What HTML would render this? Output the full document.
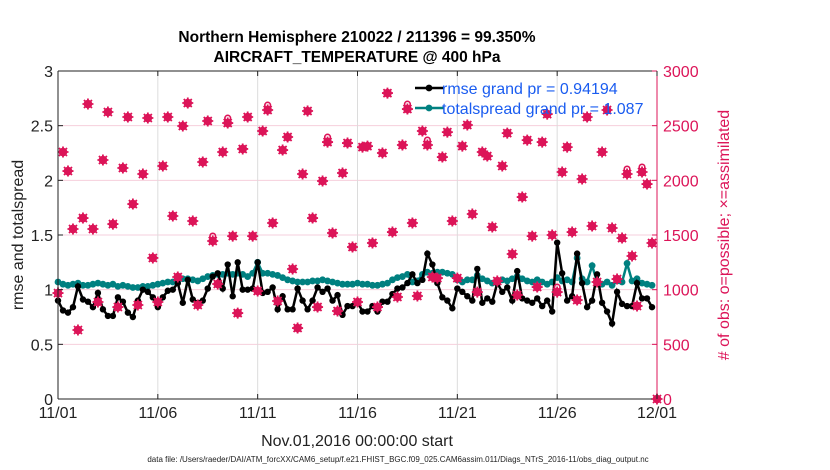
<!DOCTYPE html>
<html><head><meta charset="utf-8"><style>
body{margin:0;background:#fff;}
svg{display:block;font-family:"Liberation Sans",sans-serif;}
</style></head><body>
<svg id="chart" width="830" height="470"></svg>
<script>
const dayLabels=["11/01","11/06","11/11","11/16","11/21","11/26","12/01"];
const leftTicks=[0,0.5,1,1.5,2,2.5,3];
const rightTicks=[0,500,1000,1500,2000,2500,3000];
const rmse=[0.90,0.81,0.79,0.84,1.03,0.91,0.89,0.84,0.97,0.82,
0.76,0.76,0.93,0.89,0.79,0.75,0.90,1.00,0.98,0.93,
0.84,0.93,0.99,1.00,1.06,0.88,1.09,0.91,0.88,0.90,
1.01,1.12,1.15,1.01,1.23,0.94,1.25,1.00,1.00,1.01,
1.25,0.97,0.98,1.02,0.82,0.94,0.82,0.82,1.01,0.90,
0.82,0.90,1.02,0.98,1.01,0.90,0.95,0.77,0.85,0.85,
0.89,0.80,0.80,0.85,0.80,0.89,0.89,0.96,1.01,1.02,
1.06,1.14,1.06,1.09,1.33,1.23,1.06,0.93,0.90,
0.83,1.01,0.98,0.94,0.90,1.19,0.88,0.92,0.89,1.06,
0.98,1.02,0.90,1.17,0.92,0.90,0.88,0.92,0.85,0.90,
0.80,1.43,1.15,0.90,0.94,1.33,1.06,0.84,0.90,1.14,
0.88,0.80,0.69,0.98,0.87,0.85,0.85,1.06,0.92,0.92,0.84];
const spread=[1.07,1.05,1.04,1.05,1.06,1.04,1.04,1.05,1.06,1.05,1.04,
1.05,1.03,1.04,1.03,1.02,1.02,1.03,1.03,1.04,1.05,
1.06,1.07,1.07,1.09,1.10,1.10,1.09,1.08,1.10,1.12,
1.13,1.14,1.14,1.15,1.14,1.15,1.14,1.12,1.15,1.25,
1.15,1.15,1.14,1.13,1.11,1.09,1.08,1.07,1.07,1.07,
1.08,1.08,1.09,1.08,1.07,1.06,1.05,1.05,1.05,1.06,
1.05,1.05,1.04,1.04,1.05,1.06,1.09,1.11,1.12,1.14,
1.07,1.08,1.14,1.16,1.15,1.16,1.16,1.15,
1.14,1.09,1.07,1.09,1.09,1.13,1.10,1.08,1.06,1.07,
1.09,1.08,1.10,1.12,1.10,1.08,1.07,1.09,1.07,1.05,
1.07,1.11,1.08,1.09,1.07,1.29,1.10,1.07,1.22,1.07,1.05,
1.07,1.04,1.08,1.07,1.24,1.08,1.10,1.06,1.05,1.04];
const assim=[969,2259,2085,1555,631,1655,2698,1555,887,2186,
2625,1600,841,2113,2579,1783,860,2058,2570,1290,
887,2131,2579,1674,1116,2497,2707,1628,860,2168,
2543,1445,1052,2259,2524,1490,786,2287,2579,1490,
988,2451,2643,1610,896,2277,2396,1189,649,2058,
2634,1655,841,1994,2350,1518,805,2067,2341,1390,
887,2304,2313,1427,841,2250,2798,1527,933,2323,
2652,1610,942,2451,2323,1116,1106,2213,2441,1628,
1106,2313,2506,1692,978,2259,2222,1573,1079,2131,
2432,1326,951,1847,2368,1490,1024,2350,2606,1500,
978,2076,2304,1527,905,2012,2579,1582,1070,2259,
2643,1564,1097,1472,2058,1308,851,2076,1966,1427,0];
const possible=assim.map((v,i)=>[31,34,42,54,70,74,100,114,117].includes(i)?v+45:v);

const L=58,R=657,T=71,B=399;
const N=120;
const xS=i=>L+(R-L)*i/N;
const yL=v=>B-(B-T)*v/3;
const yR=v=>B-(B-T)*v/3000;
const svg=document.getElementById('chart');
const NS='http://www.w3.org/2000/svg';
function mk(tag,attrs,parent){const e=document.createElementNS(NS,tag);for(const k in attrs)e.setAttribute(k,attrs[k]);(parent||svg).appendChild(e);return e;}

const grid=mk('g',{});


leftTicks.forEach(v=>{if(v>0&&v<3)mk('line',{x1:L,x2:R,y1:yL(v),y2:yL(v),stroke:'#f6cfdc','stroke-width':1},grid);});
dayLabels.forEach((d,k)=>{const x=xS(k*20);if(k>0&&k<6)mk('line',{x1:x,x2:x,y1:T,y2:B,stroke:'#dcdcdc','stroke-width':1},grid);});

function series(vals,color,name,r){
  const g=mk('g',{});
  
  
  mk('polyline',{points:vals.map((v,i)=>xS(i)+','+yL(v)).join(' '),fill:'none',stroke:color,'stroke-width':2.5},g);
  vals.forEach((v,i)=>{const c=mk('circle',{cx:xS(i),cy:yL(v),r:r,fill:color},g);
    
    });
}
series(spread,'#008080','totalspread-series',3.4);
series(rmse,'#000000','rmse-series',3.2);

const obsG=mk('g',{});


const MC='#dc1458';
possible.forEach((v,i)=>{const c=mk('circle',{cx:xS(i),cy:yR(v),r:2.8,fill:'none',stroke:MC,'stroke-width':1.6},obsG);
  
  });
assim.forEach((v,i)=>{const x=xS(i),y=yR(v);
  const s=mk('g',{},obsG);
  
  
  mk('circle',{cx:x,cy:y,r:4.3,fill:MC},s);
  mk('path',{d:`M${x-5.5},${y}H${x+5.5}M${x},${y-5.5}V${y+5.5}M${x-4},${y-4}L${x+4},${y+4}M${x-4},${y+4}L${x+4},${y-4}`,stroke:MC,'stroke-width':1.8},s);});

mk('path',{d:`M${L},${T}H${R}`,stroke:'#222','stroke-width':1});
mk('path',{d:`M${L},${B}H${R}`,stroke:'#222','stroke-width':1});
const la=mk('line',{x1:L,x2:L,y1:T,y2:B,stroke:'#222','stroke-width':1});

const ra=mk('line',{x1:R,x2:R,y1:T,y2:B,stroke:MC,'stroke-width':1});

leftTicks.forEach(v=>{mk('line',{x1:L,x2:L+5,y1:yL(v),y2:yL(v),stroke:'#222'});
  const t=mk('text',{x:L-5,y:yL(v)+6,'text-anchor':'end','font-size':16,fill:'#222'});t.textContent=v;
  });
rightTicks.forEach(v=>{mk('line',{x1:R-5,x2:R,y1:yR(v),y2:yR(v),stroke:MC});
  const t=mk('text',{x:R+6,y:yR(v)+6,'font-size':16,fill:MC});t.textContent=v;
  });
dayLabels.forEach((d,k)=>{const x=xS(k*20);mk('line',{x1:x,x2:x,y1:B-5,y2:B,stroke:'#222'});mk('line',{x1:x,x2:x,y1:T,y2:T+5,stroke:'#222'});
  const t=mk('text',{x:x,y:B+19,'text-anchor':'middle','font-size':16,fill:'#222'});t.textContent=d;
  });
</script>
<svg width="830" height="470" style="position:absolute;left:0;top:0">
<text x="357" y="42" text-anchor="middle" font-size="15.5" font-weight="bold" font-family="Liberation Sans,sans-serif">Northern Hemisphere 210022 / 211396 = 99.350%</text>
<text x="357" y="62" text-anchor="middle" font-size="15.5" font-weight="bold" font-family="Liberation Sans,sans-serif">AIRCRAFT_TEMPERATURE @ 400 hPa</text>
<text transform="translate(23,235) rotate(-90)" text-anchor="middle" font-size="16" fill="#222" font-family="Liberation Sans,sans-serif">rmse and totalspread</text>
<text transform="translate(729,235) rotate(-90)" text-anchor="middle" font-size="16" fill="#dc1458" font-family="Liberation Sans,sans-serif"># of obs: o=possible; ×=assimilated</text>
<text x="357" y="446" text-anchor="middle" font-size="16" fill="#222" font-family="Liberation Sans,sans-serif">Nov.01,2016 00:00:00 start</text>
<text x="398" y="462" text-anchor="middle" font-size="8" fill="#222" font-family="Liberation Sans,sans-serif">data file: /Users/raeder/DAI/ATM_forcXX/CAM6_setup/f.e21.FHIST_BGC.f09_025.CAM6assim.011/Diags_NTrS_2016-11/obs_diag_output.nc</text>
<g font-family="Liberation Sans,sans-serif">
<g>
<line x1="415" x2="444" y1="88" y2="88" stroke="#000" stroke-width="2.5"/>
<circle cx="429" cy="88" r="3.4" fill="#000"/>
<text x="442" y="94" font-size="16" fill="#1a5cf0">rmse grand pr = 0.94194</text></g>
<g>
<line x1="415" x2="444" y1="108" y2="108" stroke="#008080" stroke-width="2.5"/>
<circle cx="429" cy="108" r="3.4" fill="#008080"/>
<text x="442" y="114" font-size="16" fill="#1a5cf0">totalspread grand pr = 1.087</text></g>
</g>
</svg>
</body></html>
